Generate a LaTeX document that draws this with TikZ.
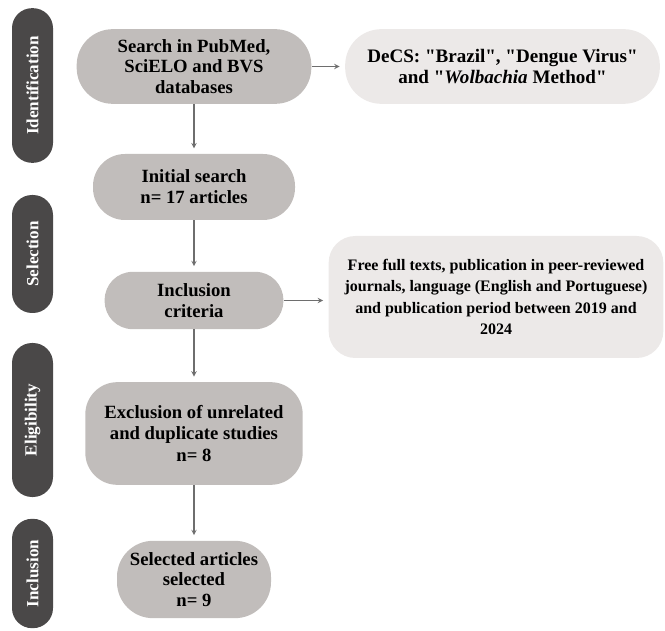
\documentclass[tikz,border=0pt]{standalone}
\usepackage{fontspec}
\setmainfont{Liberation Serif}
\usepackage{tikz}
\usetikzlibrary{positioning, arrows}
\definecolor{barcol}{HTML}{4A4848}
\definecolor{boxcol}{HTML}{C1BDBB}
\definecolor{notecol}{HTML}{ECE9E8}
\definecolor{arrowcol}{HTML}{6E6E6E}
\tikzstyle{arrow} = [line width=0.8pt,arrowcol,->,>=stealth,shorten >=4pt]
\tikzstyle{phase} = [fill=barcol, text=white, rotate=90, rounded corners=15pt, minimum height=30.75pt, inner sep=0pt, font=\bfseries\fontsize{12.8}{14}\selectfont]
\tikzstyle{stepbox} = [fill=boxcol, align=center, inner sep=0pt, font=\bfseries\fontsize{14}{15.6}\selectfont]
\tikzstyle{notebox} = [fill=notecol, align=center, inner sep=0pt, font=\bfseries\fontsize{12}{16.2}\selectfont]
\newcommand{\qt}[1]{\textquotedbl#1\textquotedbl}

\begin{document}
\begin{tikzpicture}[x=0.75pt, y=-0.75pt]
  \useasboundingbox (0,0) rectangle (665,631);

  % Phase bars
  \node[phase, minimum width=116pt] (ident) at (32.5,85.5) {Identification};
  \node[phase, minimum width=88.5pt] (select) at (32.5,254) {Selection};
  \node[phase, minimum width=115.5pt] (elig) at (32.5,420) {Eligibility};
  \node[phase, minimum width=82pt] (incl) at (32.5,573.5) {Inclusion};

  % Main flow
  \node[stepbox, minimum width=176pt, minimum height=56pt, rounded corners=27pt] (search) at (194,66.5)
    {Search in PubMed,\\SciELO and BVS\\databases};
  \node[stepbox, minimum width=151.5pt, minimum height=49.5pt, rounded corners=24pt] (initial) at (194,187)
    {Initial search\\n= 17 articles};
  \node[stepbox, minimum width=134pt, minimum height=43pt, rounded corners=21pt] (inclusion) at (194,300.5)
    {Inclusion\\criteria};
  \node[stepbox, minimum width=163pt, minimum height=77pt, rounded corners=24pt, font=\bfseries\fontsize{14}{16.3}\selectfont] (exclusion) at (194,433.5)
    {Exclusion of unrelated\\and duplicate studies\\n= 8};
  \node[stepbox, minimum width=115.5pt, minimum height=58pt, rounded corners=27pt] (selected) at (194,579.5)
    {Selected articles\\selected\\n= 9};

  % Side notes
  \node[notebox, minimum width=236pt, minimum height=56pt, rounded corners=27pt, font=\bfseries\fontsize{14.3}{15.6}\selectfont] (decs) at (502.5,66.5)
    {DeCS: \qt{Brazil}, \qt{Dengue Virus}\\and \qt{\textit{Wolbachia} Method}};
  \node[notebox, minimum width=251pt, minimum height=91.5pt, rounded corners=20pt] (criteria) at (496,297)
    {Free full texts, publication in peer-reviewed\\journals, language (English and Portuguese)\\and publication period between 2019 and\\2024};

  % Arrows
  \draw[arrow] (search) -- (decs);
  \draw[arrow] (search) -- (initial);
  \draw[arrow] (initial) -- (inclusion);
  \draw[arrow] (inclusion.east) -- (inclusion.east -| criteria.west);
  \draw[arrow] (inclusion) -- (exclusion);
  \draw[arrow] (exclusion) -- (selected);
\end{tikzpicture}
\end{document}
